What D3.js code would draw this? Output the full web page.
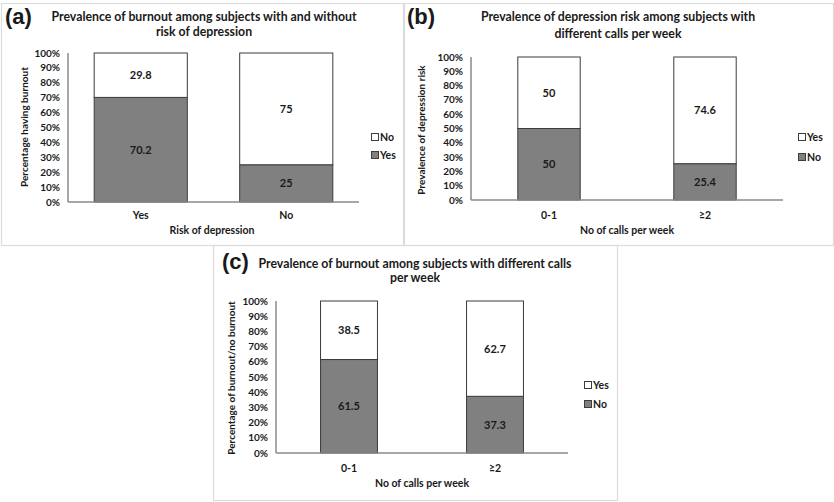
<!DOCTYPE html>
<html>
<head>
<meta charset="utf-8">
<script src="https://cdn.jsdelivr.net/npm/d3@7"></script>
<style>
  body { margin: 0; background: #fff; }
  svg text { font-family: Lato, "Open Sans", sans-serif; font-weight: bold; fill: #1a1a1a; }
</style>
</head>
<body>
<script>
// tick labels shared by all three panels
var yTicks = [0, 10, 20, 30, 40, 50, 60, 70, 80, 90, 100];

// (a) burnout vs risk of depression
var catsA = ["Yes", "No"];
var bottomA = [70.2, 25];   // "Yes" burnout
var topA = [29.8, 75];      // "No" burnout
var legendA = ["No", "Yes"];

// (b) depression risk vs calls per week
var catsB = ["0-1", "≥2"];
var bottomB = [50, 25.4];   // "No"
var topB = [50, 74.6];      // "Yes"
var legendB = ["Yes", "No"];

// (c) burnout vs calls per week
var catsC = ["0-1", "≥2"];
var bottomC = [61.5, 37.3]; // "No"
var topC = [38.5, 62.7];    // "Yes"
var legendC = ["Yes", "No"];

var W = 834, H = 502;
var svg = d3.select("body").append("svg")
    .attr("width", W)
    .attr("height", H);

// panel frames
var frames = [[1, 3, 402, 242], [404, 3, 429, 242], [213, 245, 404, 255]];
svg.selectAll("rect.frame")
    .data(frames)
    .enter()
    .append("rect")
    .attr("class", "frame")
    .attr("x", function(d) { return d[0] + 0.5; })
    .attr("y", function(d) { return d[1] + 0.5; })
    .attr("width", function(d) { return d[2]; })
    .attr("height", function(d) { return d[3]; })
    .attr("fill", "none")
    .attr("stroke", "#dcdcdc")
    .attr("stroke-width", 1.2);

function drawPanel(p) {
    var g = svg.append("g");

    // panel letter
    g.append("text")
        .attr("x", p.letterX)
        .attr("y", p.letterY)
        .style("font-family", "'Liberation Sans', Arial, sans-serif")
        .style("font-size", "22px")
        .text(p.letter);

    // title
    p.title.forEach(function(t, i) {
        g.append("text")
            .attr("x", p.titleX)
            .attr("y", p.titleY[i])
            .attr("text-anchor", "middle")
            .style("font-size", "12.3px")
            .text(t);
    });

    var x = d3.scaleBand()
        .domain(p.cats)
        .range([p.x0, p.x1])
        .paddingInner(p.pad)
        .paddingOuter(p.pad / 2);

    var y = d3.scaleLinear()
        .domain([0, 100])
        .range([p.yBottom, p.yTop]);

    // y tick labels
    g.selectAll("text.ytick")
        .data(yTicks)
        .enter()
        .append("text")
        .attr("class", "ytick")
        .attr("x", p.x0 - 8)
        .attr("y", function(d) { return y(d) + 3.5; })
        .attr("text-anchor", "end")
        .style("font-size", "10px")
        .text(function(d) { return d + "%"; });

    // bottom (grey) segments
    g.selectAll("rect.bot")
        .data(p.bottom)
        .enter()
        .append("rect")
        .attr("class", "bot")
        .attr("x", function(d, i) { return x(p.cats[i]); })
        .attr("y", function(d) { return y(d); })
        .attr("width", x.bandwidth())
        .attr("height", function(d) { return y(0) - y(d); })
        .attr("fill", "#808080")
        .attr("stroke", "#3c3c3c")
        .attr("stroke-width", 1);

    // top (white) segments
    g.selectAll("rect.top")
        .data(p.top)
        .enter()
        .append("rect")
        .attr("class", "top")
        .attr("x", function(d, i) { return x(p.cats[i]); })
        .attr("y", function(d, i) { return y(p.bottom[i] + d); })
        .attr("width", x.bandwidth())
        .attr("height", function(d, i) { return y(p.bottom[i]) - y(p.bottom[i] + d); })
        .attr("fill", "#fff")
        .attr("stroke", "#3c3c3c")
        .attr("stroke-width", 1);

    // value labels
    g.selectAll("text.vbot")
        .data(p.bottom)
        .enter()
        .append("text")
        .attr("x", function(d, i) { return x(p.cats[i]) + x.bandwidth() / 2; })
        .attr("y", function(d) { return y(d / 2) + 4; })
        .attr("text-anchor", "middle")
        .style("font-size", "11px")
        .text(function(d) { return d; });

    g.selectAll("text.vtop")
        .data(p.top)
        .enter()
        .append("text")
        .attr("x", function(d, i) { return x(p.cats[i]) + x.bandwidth() / 2; })
        .attr("y", function(d, i) { return y(p.bottom[i] + d / 2) + 4; })
        .attr("text-anchor", "middle")
        .style("font-size", "11px")
        .text(function(d) { return d; });

    // axis lines
    g.append("line")
        .attr("x1", p.x0).attr("x2", p.x0)
        .attr("y1", p.yTop).attr("y2", p.yBottom)
        .attr("stroke", "#8a8a8a")
        .attr("stroke-width", 1.5);
    g.append("line")
        .attr("x1", p.x0).attr("x2", p.x1)
        .attr("y1", p.yBottom).attr("y2", p.yBottom)
        .attr("stroke", "#8a8a8a")
        .attr("stroke-width", 1.5);

    // category labels
    g.selectAll("text.cat")
        .data(p.cats)
        .enter()
        .append("text")
        .attr("x", function(d) { return x(d) + x.bandwidth() / 2; })
        .attr("y", p.catY)
        .attr("text-anchor", "middle")
        .style("font-size", "10.5px")
        .text(function(d) { return d; });

    // axis titles
    g.append("text")
        .attr("x", p.xTitleX)
        .attr("y", p.xTitleY)
        .attr("text-anchor", "middle")
        .style("font-size", "10.5px")
        .text(p.xTitle);

    g.append("text")
        .attr("transform", "translate(" + p.yTitleX + "," + p.yTitleY + ") rotate(-90)")
        .attr("text-anchor", "middle")
        .style("font-size", "10px")
        .text(p.yTitle);

    // legend
    var lg = g.selectAll("g.leg")
        .data(p.legend)
        .enter()
        .append("g")
        .attr("transform", function(d, i) { return "translate(" + p.legX + "," + p.legY[i] + ")"; });
    lg.append("rect")
        .attr("x", 0.5).attr("y", -3.5)
        .attr("width", 7).attr("height", 7)
        .attr("fill", function(d, i) { return i === 0 ? "#fff" : "#808080"; })
        .attr("stroke", "#3c3c3c")
        .attr("stroke-width", 1);
    lg.append("text")
        .attr("x", 9)
        .attr("y", 4)
        .style("font-size", "10.5px")
        .text(function(d) { return d; });
}

drawPanel({
    letter: "(a)", letterX: 5, letterY: 24,
    title: ["Prevalence of burnout among subjects with and without", "risk of depression"],
    titleX: 204, titleY: [21, 36],
    cats: catsA, bottom: bottomA, top: topA, legend: legendA,
    x0: 68, x1: 359, yTop: 53, yBottom: 202, pad: 0.36,
    catY: 219, xTitle: "Risk of depression", xTitleX: 212, xTitleY: 234,
    yTitle: "Percentage having burnout", yTitleX: 28, yTitleY: 127,
    legX: 371, legY: [137, 155]
});

drawPanel({
    letter: "(b)", letterX: 407, letterY: 24,
    title: ["Prevalence of depression risk among subjects with", "different calls per week"],
    titleX: 618, titleY: [21, 38],
    cats: catsB, bottom: bottomB, top: topB, legend: legendB,
    x0: 471, x1: 783, yTop: 57, yBottom: 200, pad: 0.6,
    catY: 219, xTitle: "No of calls per week", xTitleX: 627, xTitleY: 234,
    yTitle: "Prevalence of depression risk", yTitleX: 425, yTitleY: 130,
    legX: 798, legY: [137, 157]
});

drawPanel({
    letter: "(c)", letterX: 222, letterY: 269,
    title: ["Prevalence of burnout among subjects with different calls", "per week"],
    titleX: 415, titleY: [268, 282],
    cats: catsC, bottom: bottomC, top: topC, legend: legendC,
    x0: 276, x1: 568, yTop: 301, yBottom: 453, pad: 0.61,
    catY: 472, xTitle: "No of calls per week", xTitleX: 422, xTitleY: 487,
    yTitle: "Percentage of burnout/no burnout", yTitleX: 235, yTitleY: 378,
    legX: 584, legY: [385, 404]
});
</script>
</body>
</html>
